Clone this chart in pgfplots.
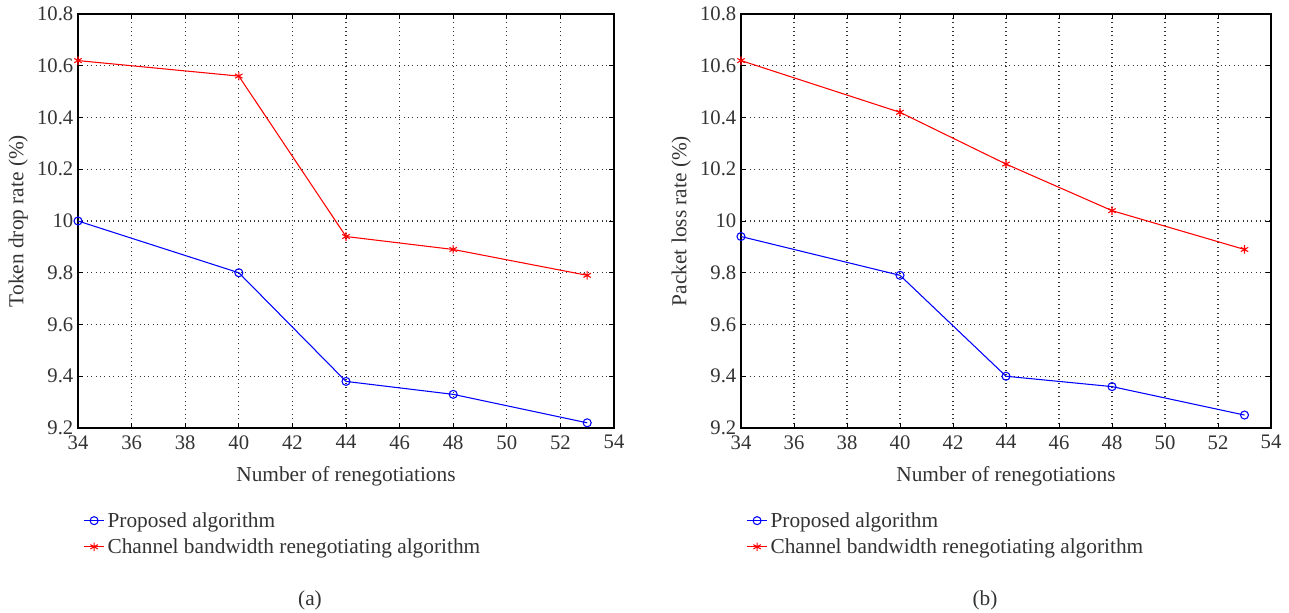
\documentclass[border=0pt]{standalone}
\usepackage{fontspec}
\setmainfont{Liberation Serif}
\usepackage{pgfplots}
\pgfplotsset{compat=1.18}

\definecolor{txt}{HTML}{333333}

\pgfplotsset{
  renego/.style={
    width=402pt, height=310.5pt, scale only axis,
    xmin=34, xmax=54, ymin=9.2, ymax=10.8,
    xtick={34,36,...,54},
    ytick={9.2,9.4,...,10.8},
    yticklabel style={/pgf/number format/.cd,fixed,precision=1},
    xticklabel style={yshift=-2pt},
    /pgf/number format/assume math mode=true,
    grid=major,
    grid style={black!80, line width=0.8pt, dash pattern=on 0.8pt off 2.5pt},
    tick align=inside,
    major tick length=4pt,
    axis line style={black, line width=0.8pt},
    tick style={black, line width=0.6pt},
    ticklabel style={font=\fontsize{15.5}{17}\selectfont, text=txt},
    label style={font=\fontsize{16}{18}\selectfont, text=txt},
    xlabel={Number of renegotiations},
    xlabel style={yshift=-6pt},
    legend style={
      at={(0.002,-0.19)}, anchor=north west,
      draw=none, fill=none,
      font=\fontsize{16}{18}\selectfont, text=txt,
      row sep=3pt,
      legend cell align=left,
    },
    legend cell align=left,
    legend image code/.code={
      \draw[mark repeat=2,mark phase=2] plot coordinates {(0cm,0cm) (0.27cm,0cm) (0.54cm,0cm)};
    },
  },
  prop/.style={blue, line width=0.8pt, mark=o, mark size=3pt, mark options={solid, line width=0.8pt}},
  chan/.style={red, line width=0.8pt, mark=asterisk, mark size=3.2pt, mark options={solid, line width=0.8pt}},
}

\begin{document}
\begin{tikzpicture}
\useasboundingbox (0,0) rectangle (966.75pt,459.75pt);

\begin{axis}[renego, at={(58.5pt,138.75pt)}, anchor=south west,
  ylabel={Token drop rate (\%)}]
\addplot[prop] coordinates {(34,10.00)(40,9.80)(44,9.38)(48,9.33)(53,9.22)};
\addlegendentry{Proposed algorithm}
\addplot[chan] coordinates {(34,10.62)(40,10.56)(44,9.94)(48,9.89)(53,9.79)};
\addlegendentry{Channel bandwidth renegotiating algorithm}
\end{axis}

\begin{axis}[renego, width=397.5pt, at={(555.75pt,138.75pt)}, anchor=south west,
  ylabel={Packet loss rate (\%)}]
\addplot[prop] coordinates {(34,9.94)(40,9.79)(44,9.40)(48,9.36)(53,9.25)};
\addlegendentry{Proposed algorithm}
\addplot[chan] coordinates {(34,10.62)(40,10.42)(44,10.22)(48,10.04)(53,9.89)};
\addlegendentry{Channel bandwidth renegotiating algorithm}
\end{axis}

\node[text=txt, font=\fontsize{16}{18}\selectfont] at (232.5pt,9.75pt) {(a)};
\node[text=txt, font=\fontsize{16}{18}\selectfont] at (738.75pt,9.75pt) {(b)};
\end{tikzpicture}
\end{document}
